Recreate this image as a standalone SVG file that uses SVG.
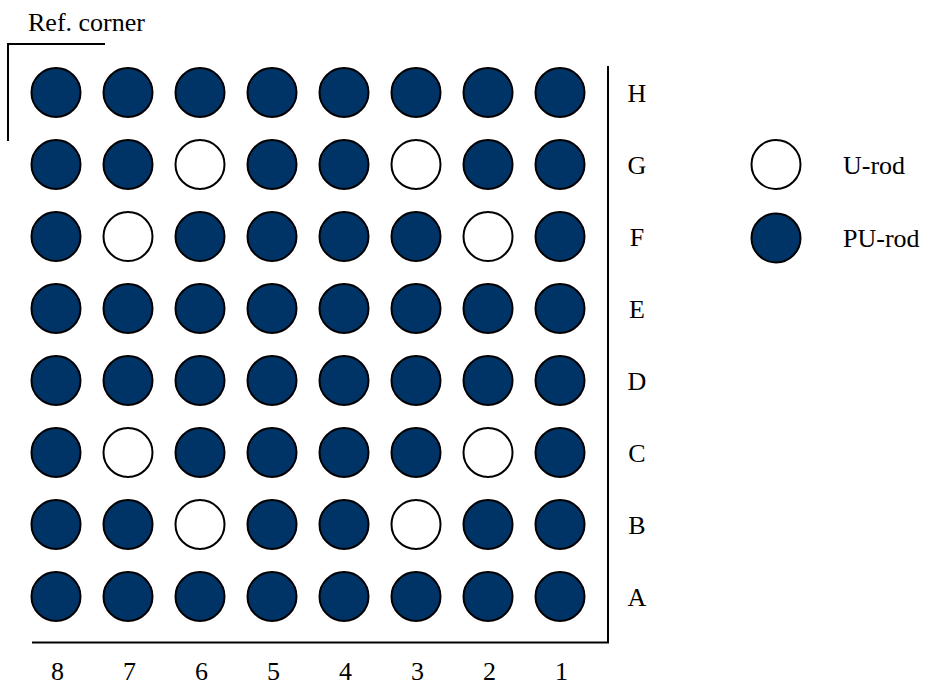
<svg xmlns="http://www.w3.org/2000/svg" width="928" height="689" viewBox="0 0 928 689">
<style>
.pu{fill:#003366;stroke:#000;stroke-width:2}
.u{fill:#fff;stroke:#000;stroke-width:2}
.ln{stroke:#000;stroke-width:2;fill:none}
text{font-family:"Liberation Serif","Times New Roman",serif;font-size:26px;fill:#000}
.m{text-anchor:middle}
</style>
<rect width="928" height="689" fill="#fff"/>
<g id="connectors">
<path class="ln" d="M8,141 V44 H105"/>
<path class="ln" d="M608,66 V642.5 H32"/>
</g>
<text x="28" y="31">Ref. corner</text>
<g id="rods">
<g id="row-H">
<circle class="pu" cx="56" cy="92.5" r="24.5"/><circle class="pu" cx="128" cy="92.5" r="24.5"/><circle class="pu" cx="200" cy="92.5" r="24.5"/><circle class="pu" cx="272" cy="92.5" r="24.5"/><circle class="pu" cx="344" cy="92.5" r="24.5"/><circle class="pu" cx="416" cy="92.5" r="24.5"/><circle class="pu" cx="488" cy="92.5" r="24.5"/><circle class="pu" cx="560" cy="92.5" r="24.5"/>
</g>
<g id="row-G">
<circle class="pu" cx="56" cy="164.5" r="24.5"/><circle class="pu" cx="128" cy="164.5" r="24.5"/><circle class="u" cx="200" cy="164.5" r="24.5"/><circle class="pu" cx="272" cy="164.5" r="24.5"/><circle class="pu" cx="344" cy="164.5" r="24.5"/><circle class="u" cx="416" cy="164.5" r="24.5"/><circle class="pu" cx="488" cy="164.5" r="24.5"/><circle class="pu" cx="560" cy="164.5" r="24.5"/>
</g>
<g id="row-F">
<circle class="pu" cx="56" cy="236.5" r="24.5"/><circle class="u" cx="128" cy="236.5" r="24.5"/><circle class="pu" cx="200" cy="236.5" r="24.5"/><circle class="pu" cx="272" cy="236.5" r="24.5"/><circle class="pu" cx="344" cy="236.5" r="24.5"/><circle class="pu" cx="416" cy="236.5" r="24.5"/><circle class="u" cx="488" cy="236.5" r="24.5"/><circle class="pu" cx="560" cy="236.5" r="24.5"/>
</g>
<g id="row-E">
<circle class="pu" cx="56" cy="308.5" r="24.5"/><circle class="pu" cx="128" cy="308.5" r="24.5"/><circle class="pu" cx="200" cy="308.5" r="24.5"/><circle class="pu" cx="272" cy="308.5" r="24.5"/><circle class="pu" cx="344" cy="308.5" r="24.5"/><circle class="pu" cx="416" cy="308.5" r="24.5"/><circle class="pu" cx="488" cy="308.5" r="24.5"/><circle class="pu" cx="560" cy="308.5" r="24.5"/>
</g>
<g id="row-D">
<circle class="pu" cx="56" cy="380.5" r="24.5"/><circle class="pu" cx="128" cy="380.5" r="24.5"/><circle class="pu" cx="200" cy="380.5" r="24.5"/><circle class="pu" cx="272" cy="380.5" r="24.5"/><circle class="pu" cx="344" cy="380.5" r="24.5"/><circle class="pu" cx="416" cy="380.5" r="24.5"/><circle class="pu" cx="488" cy="380.5" r="24.5"/><circle class="pu" cx="560" cy="380.5" r="24.5"/>
</g>
<g id="row-C">
<circle class="pu" cx="56" cy="452.5" r="24.5"/><circle class="u" cx="128" cy="452.5" r="24.5"/><circle class="pu" cx="200" cy="452.5" r="24.5"/><circle class="pu" cx="272" cy="452.5" r="24.5"/><circle class="pu" cx="344" cy="452.5" r="24.5"/><circle class="pu" cx="416" cy="452.5" r="24.5"/><circle class="u" cx="488" cy="452.5" r="24.5"/><circle class="pu" cx="560" cy="452.5" r="24.5"/>
</g>
<g id="row-B">
<circle class="pu" cx="56" cy="524.5" r="24.5"/><circle class="pu" cx="128" cy="524.5" r="24.5"/><circle class="u" cx="200" cy="524.5" r="24.5"/><circle class="pu" cx="272" cy="524.5" r="24.5"/><circle class="pu" cx="344" cy="524.5" r="24.5"/><circle class="u" cx="416" cy="524.5" r="24.5"/><circle class="pu" cx="488" cy="524.5" r="24.5"/><circle class="pu" cx="560" cy="524.5" r="24.5"/>
</g>
<g id="row-A">
<circle class="pu" cx="56" cy="596.5" r="24.5"/><circle class="pu" cx="128" cy="596.5" r="24.5"/><circle class="pu" cx="200" cy="596.5" r="24.5"/><circle class="pu" cx="272" cy="596.5" r="24.5"/><circle class="pu" cx="344" cy="596.5" r="24.5"/><circle class="pu" cx="416" cy="596.5" r="24.5"/><circle class="pu" cx="488" cy="596.5" r="24.5"/><circle class="pu" cx="560" cy="596.5" r="24.5"/>
</g>
</g>
<g id="row-labels">
<text class="m" x="637" y="102">H</text>
<text class="m" x="637" y="174">G</text>
<text class="m" x="637" y="246">F</text>
<text class="m" x="637" y="318">E</text>
<text class="m" x="637" y="390">D</text>
<text class="m" x="637" y="462">C</text>
<text class="m" x="637" y="534">B</text>
<text class="m" x="637" y="606">A</text>
</g>
<g id="col-labels">
<text class="m" x="57.5" y="680">8</text>
<text class="m" x="129.5" y="680">7</text>
<text class="m" x="201.5" y="680">6</text>
<text class="m" x="273.5" y="680">5</text>
<text class="m" x="345.5" y="680">4</text>
<text class="m" x="417.5" y="680">3</text>
<text class="m" x="489.5" y="680">2</text>
<text class="m" x="561.5" y="680">1</text>
</g>
<g id="legend-u">
<circle class="u" cx="776" cy="164.5" r="24.5"/>
<text x="843" y="174">U-rod</text>
</g>
<g id="legend-pu">
<circle class="pu" cx="776" cy="238" r="24.5"/>
<text x="843" y="247">PU-rod</text>
</g>
</svg>
